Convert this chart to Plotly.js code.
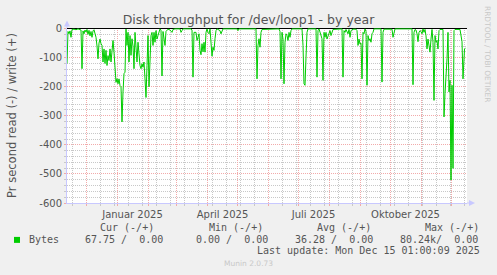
<!DOCTYPE html>
<html>
<head>
<meta charset="utf-8">
<script src="https://cdn.plot.ly/plotly-3.0.1.min.js"></script>
<style>
html,body{margin:0;padding:0;background:#f0f0f0;}
#chart{width:497px;height:275px;}
</style>
</head>
<body>
<div id="chart"></div>
<script>
// ---- data (negative = read, Bytes per second) ----
const dates = [
 '2024-11-11T12:00','2024-11-12T12:00','2024-11-13T12:00','2024-11-14T12:00','2024-11-15T12:00','2024-11-16T12:00',
 '2024-11-18T12:00','2024-11-20T12:00','2024-11-22T12:00','2024-11-25T12:00','2024-11-26T12:00','2024-11-27T12:00',
 '2024-11-28T12:00','2024-11-29T12:00','2024-11-30T12:00','2024-12-01T12:00','2024-12-02T12:00','2024-12-03T12:00',
 '2024-12-04T12:00','2024-12-05T12:00','2024-12-06T12:00','2024-12-07T12:00','2024-12-08T12:00','2024-12-09T12:00',
 '2024-12-10T12:00','2024-12-11T12:00','2024-12-12T12:00','2024-12-13T12:00','2024-12-14T12:00','2024-12-15T12:00',
 '2024-12-16T12:00','2024-12-17T12:00','2024-12-18T12:00','2024-12-19T12:00','2024-12-20T12:00','2024-12-21T12:00',
 '2024-12-22T12:00','2024-12-23T12:00','2024-12-24T12:00','2024-12-25T12:00','2024-12-26T12:00','2024-12-27T12:00',
 '2024-12-28T12:00','2024-12-29T12:00','2024-12-30T12:00','2024-12-31T12:00','2025-01-01T12:00','2025-01-02T12:00',
 '2025-01-03T12:00','2025-01-04T12:00','2025-01-05T12:00','2025-01-06T12:00','2025-01-07T12:00','2025-01-08T12:00',
 '2025-01-09T12:00','2025-01-10T12:00','2025-01-11T12:00','2025-01-12T12:00','2025-01-13T12:00','2025-01-14T12:00',
 '2025-01-15T12:00','2025-01-16T12:00','2025-01-17T12:00','2025-01-18T12:00','2025-01-19T12:00','2025-01-20T12:00',
 '2025-01-21T12:00','2025-01-22T12:00','2025-01-23T12:00','2025-01-24T12:00','2025-01-25T12:00','2025-01-26T12:00',
 '2025-01-27T12:00','2025-01-28T12:00','2025-01-29T12:00','2025-01-30T12:00','2025-01-31T12:00','2025-02-01T12:00',
 '2025-02-02T12:00','2025-02-03T12:00','2025-02-04T12:00','2025-02-05T12:00','2025-02-06T12:00','2025-02-07T12:00',
 '2025-02-08T12:00','2025-02-09T12:00','2025-02-10T12:00','2025-02-12T12:00','2025-02-13T12:00','2025-02-14T12:00',
 '2025-02-15T12:00','2025-02-16T12:00','2025-02-17T12:00','2025-02-18T12:00','2025-02-20T12:00','2025-02-22T12:00',
 '2025-02-24T12:00','2025-02-25T12:00','2025-02-27T12:00','2025-03-04T12:00','2025-03-05T12:00','2025-03-06T12:00',
 '2025-03-07T12:00','2025-03-15T12:00','2025-03-16T12:00','2025-03-17T12:00','2025-03-18T12:00','2025-03-20T12:00',
 '2025-03-21T12:00','2025-03-22T12:00','2025-03-23T12:00','2025-03-24T12:00','2025-03-25T12:00','2025-03-26T12:00',
 '2025-03-27T12:00','2025-03-28T12:00','2025-03-29T12:00','2025-03-30T12:00','2025-03-31T12:00','2025-04-01T12:00',
 '2025-04-02T12:00','2025-04-03T12:00','2025-04-04T12:00','2025-04-05T12:00','2025-04-06T12:00','2025-04-07T12:00',
 '2025-04-08T12:00','2025-04-09T12:00','2025-04-10T12:00','2025-04-13T12:00','2025-04-14T12:00','2025-04-15T12:00',
 '2025-04-16T12:00','2025-04-30T12:00','2025-05-01T12:00','2025-05-02T12:00','2025-05-19T12:00','2025-05-20T12:00',
 '2025-05-21T12:00','2025-05-22T12:00','2025-05-23T12:00','2025-05-24T12:00','2025-05-25T12:00','2025-06-11T12:00',
 '2025-06-12T12:00','2025-06-13T12:00','2025-06-14T12:00','2025-06-15T12:00','2025-06-16T12:00','2025-06-17T12:00',
 '2025-06-18T12:00','2025-06-19T12:00','2025-06-20T12:00','2025-06-21T12:00','2025-06-22T12:00','2025-06-23T12:00',
 '2025-06-24T12:00','2025-07-04T12:00','2025-07-05T12:00','2025-07-06T12:00','2025-07-07T12:00','2025-07-08T12:00',
 '2025-07-09T12:00','2025-07-10T12:00','2025-07-18T12:00','2025-07-19T12:00','2025-07-20T12:00','2025-07-21T12:00',
 '2025-07-24T12:00','2025-07-25T12:00','2025-07-26T12:00','2025-07-27T12:00','2025-07-28T12:00','2025-07-29T12:00',
 '2025-07-30T12:00','2025-07-31T12:00','2025-08-01T12:00','2025-08-02T12:00','2025-08-03T12:00','2025-08-04T12:00',
 '2025-08-13T12:00','2025-08-14T12:00','2025-08-15T12:00','2025-08-16T12:00','2025-08-17T12:00','2025-08-19T12:00',
 '2025-08-20T12:00','2025-08-21T12:00','2025-08-22T12:00','2025-08-24T12:00','2025-08-27T12:00','2025-08-28T12:00',
 '2025-08-29T12:00','2025-08-30T12:00','2025-08-31T12:00','2025-09-01T12:00','2025-09-02T12:00','2025-09-03T12:00',
 '2025-09-04T12:00','2025-09-05T12:00','2025-09-06T12:00','2025-09-07T12:00','2025-09-08T12:00','2025-09-09T12:00',
 '2025-09-10T12:00','2025-09-11T12:00','2025-09-12T12:00','2025-09-13T12:00','2025-09-14T12:00','2025-09-21T12:00',
 '2025-09-22T12:00','2025-09-23T12:00','2025-09-24T12:00','2025-10-02T12:00','2025-10-03T12:00','2025-10-04T12:00',
 '2025-10-05T12:00','2025-10-22T12:00','2025-10-23T12:00','2025-10-24T12:00','2025-10-25T12:00','2025-10-26T12:00',
 '2025-10-27T12:00','2025-10-28T12:00','2025-10-29T12:00','2025-10-30T12:00','2025-10-31T12:00','2025-11-01T12:00',
 '2025-11-02T12:00','2025-11-03T12:00','2025-11-04T12:00','2025-11-05T12:00','2025-11-06T12:00','2025-11-07T12:00',
 '2025-11-08T12:00','2025-11-09T12:00','2025-11-10T12:00','2025-11-11T12:00','2025-11-12T12:00','2025-11-13T12:00',
 '2025-11-14T12:00','2025-11-15T12:00','2025-11-16T12:00','2025-11-17T12:00','2025-11-18T12:00','2025-11-19T12:00',
 '2025-11-22T12:00','2025-11-23T12:00','2025-11-24T12:00','2025-11-25T12:00','2025-11-26T12:00','2025-11-27T12:00',
 '2025-11-28T12:00','2025-11-29T12:00','2025-11-30T12:00','2025-12-01T12:00','2025-12-02T12:00','2025-12-03T12:00',
 '2025-12-04T12:00','2025-12-09T12:00','2025-12-10T12:00','2025-12-11T12:00','2025-12-12T12:00','2025-12-13T12:00',
 '2025-12-14T00:00','2025-12-15T00:00'
];
const readValues = [
 -120,-10,-18,-8,-30,-3,
 -2,-4,-1,-5,-138,-8,
 -18,-5,-12,-3,-20,-6,
 -25,-10,-30,-8,-4,-20,
 -30,-60,-104,-50,-36,-52,
 -58,-115,-70,-120,-75,-127,
 -93,-110,-70,-115,-58,-41,
 -81,-150,-185,-172,-190,-173,
 -196,-200,-321,-218,-155,-150,
 -2,-58,-13,-115,-24,-92,
 -35,-60,-138,-13,-58,-115,
 -47,-104,-127,-138,-121,-133,
 -115,-173,-237,-127,-24,-200,
 -104,-24,-13,-58,-13,-47,
 -7,-36,-24,-1,-5,-163,
 -10,-36,-58,-10,-2,-5,
 -13,-3,-1,-1,-13,-7,
 -1,-1,-5,-167,-13,-13,
 -41,-30,-18,-75,-90,-52,
 -80,-47,-81,-13,-1,-13,
 -18,-1,-50,-95,-64,-75,
 -35,-7,-1,-7,-18,-5,
 -1,-1,-7,-1,-1,-173,
 -58,-35,-64,-13,-3,-1,
 -10,-173,-13,-36,-190,-47,
 -18,-24,-41,-13,-30,-7,
 -1,-1,-58,-190,-195,-98,
 -13,-1,-1,-167,-7,-1,
 -35,-178,-13,-30,-13,-36,
 -24,-18,-7,-24,-13,-3,
 -1,-167,-7,-13,-3,-18,
 -3,-30,-7,-2,-2,-7,
 -58,-36,-53,-50,-173,-13,
 -18,-1,-10,-195,-24,-41,
 -35,-47,-18,-13,-1,-1,
 -184,-13,-2,-2,-30,-7,
 -1,-1,-193,-13,-3,-5,
 -18,-45,-13,-7,-10,-18,
 -1,-13,-3,-25,-70,-36,
 -58,-81,-36,-3,-47,-247,
 -24,-47,-41,-70,-7,-3,
 -3,-304,-224,-173,-104,-13,
 -218,-178,-521,-195,-481,-7,
 -3,-3,-20,-45,-173,-70,
 -70,-67.75
];

// axis ticks / labels
const xRange = ['2024-11-11T12:00', '2025-12-16T12:00'];
const monthStarts = ['2024-12-01','2025-01-01','2025-02-01','2025-03-01','2025-04-01','2025-05-01',
  '2025-06-01','2025-07-01','2025-08-01','2025-09-01','2025-10-01','2025-11-01','2025-12-01'];
const monthLabels = ['','Januar 2025','','','April 2025','','','Juli 2025','','','Oktober 2025','',''];
const yTickVals = [0,-100,-200,-300,-400,-500,-600];
const yTickText = ['0','-100','-200','-300','-400','-500','-600'];

// legend table
const seriesName = 'Bytes';
const statHeaders = ['Cur (-/+)','Min (-/+)','Avg (-/+)','Max (-/+)'];
const statValues = ['67.75 /  0.00','0.00 /  0.00','36.28 /  0.00','80.24k/  0.00'];
const titleText = 'Disk throughput for /dev/loop1 - by year';
const yTitle = 'Pr second read (-) / write (+)';
const lastUpdate = 'Last update: Mon Dec 15 01:00:09 2025';
const watermark = 'RRDTOOL / TOBI OETIKER';
const munin = 'Munin 2.0.73';

// ---- layout geometry (pixels) ----
const W = 497, H = 275;
const L = 67, R = 467, T = 27.5, B = 203;
const px = x => (x - L) / (R - L);
const py = y => (B - y) / (B - T);

const MONO = 'DejaVu Sans Mono, monospace';
const SANS = 'DejaVu Sans, sans-serif';
const TXT = '#555555';
const MAJ = 'rgb(242,170,170)';
const MIN = 'rgb(200,200,200)';
const AXC = 'rgb(200,200,255)';

const trace = {
  x: dates, y: readValues, type: 'scatter', mode: 'lines',
  line: {color: '#00cc00', width: 1}, hoverinfo: 'skip', showlegend: false
};

const headerX = [98, 207, 315, 423];
const valueX = [83, 194, 293, 398];
const annotations = [];
statHeaders.forEach((t, i) => annotations.push({
  xref: 'paper', yref: 'paper', x: px(headerX[i]), y: py(227.7), xanchor: 'left', yanchor: 'middle',
  text: t, showarrow: false, font: {family: MONO, size: 10, color: TXT}
}));
statValues.forEach((t, i) => annotations.push({
  xref: 'paper', yref: 'paper', x: px(valueX[i]), y: py(239.3), xanchor: 'left', yanchor: 'middle',
  text: t, showarrow: false, font: {family: MONO, size: 10, color: TXT}
}));
annotations.push({xref: 'paper', yref: 'paper', x: px(27), y: py(239.3), xanchor: 'left', yanchor: 'middle',
  text: seriesName, showarrow: false, font: {family: MONO, size: 10, color: TXT}});
annotations.push({xref: 'paper', yref: 'paper', x: px(482), y: py(251), xanchor: 'right', yanchor: 'middle',
  text: lastUpdate, showarrow: false, font: {family: MONO, size: 10, color: TXT}});
annotations.push({xref: 'paper', yref: 'paper', x: px(248.5), y: py(264), xanchor: 'center', yanchor: 'middle',
  text: munin, showarrow: false, font: {family: SANS, size: 7.5, color: '#c8c8c8'}});
annotations.push({xref: 'paper', yref: 'paper', x: px(487), y: py(53.5), xanchor: 'center', yanchor: 'middle',
  text: watermark, textangle: 90, showarrow: false, font: {family: SANS, size: 7.5, color: '#c8c8c8'}});

const shapes = [
  {type: 'rect', xref: 'paper', yref: 'paper', x0: px(14), x1: px(20), y0: py(243), y1: py(237),
   fillcolor: '#00cc00', line: {width: 0}},
  // axis extensions with arrow heads
  {type: 'line', xref: 'paper', yref: 'paper', x0: 0, x1: 0, y0: 1, y1: py(22), line: {color: AXC, width: 1}},
  {type: 'path', xref: 'paper', yref: 'paper',
   path: `M ${px(64)} ${py(26)} L ${px(70)} ${py(26)} L ${px(67)} ${py(20)} Z`, fillcolor: AXC, line: {width: 0}},
  {type: 'line', xref: 'paper', yref: 'paper', x0: 1, x1: px(471), y0: 0, y1: 0, line: {color: AXC, width: 1}},
  {type: 'path', xref: 'paper', yref: 'paper',
   path: `M ${px(469)} ${py(200)} L ${px(469)} ${py(206)} L ${px(475)} ${py(203)} Z`, fillcolor: AXC, line: {width: 0}}
];

const layout = {
  width: W, height: H,
  margin: {l: L, r: W - R, t: T, b: H - B, pad: 0},
  paper_bgcolor: '#f0f0f0', plot_bgcolor: '#ffffff',
  showlegend: false, hovermode: false,
  title: {text: titleText, font: {family: SANS, size: 12.5, color: TXT},
          xref: 'container', x: 0.5, xanchor: 'center', yref: 'container', y: 1 - 19.5 / H, yanchor: 'middle'},
  xaxis: {
    type: 'date', range: xRange, fixedrange: true,
    tickmode: 'array', tickvals: monthStarts, ticktext: monthLabels, ticklabelshift: 15,
    tickfont: {family: SANS, size: 10, color: TXT},
    ticks: 'outside', ticklen: 2, tickcolor: MAJ,
    showgrid: true, gridcolor: MAJ, griddash: '1px,1px', gridwidth: 1,
    minor: {dtick: 14 * 86400000, tick0: '2024-12-15', showgrid: true, gridcolor: MIN, griddash: '1px,1px',
            ticks: 'outside', ticklen: 2, tickcolor: MIN},
    showline: true, linecolor: AXC, linewidth: 1, zeroline: false
  },
  yaxis: {
    range: [-600, 2], fixedrange: true,
    tickmode: 'array', tickvals: yTickVals, ticktext: yTickText,
    tickfont: {family: SANS, size: 10, color: TXT},
    ticks: 'outside', ticklen: 2, tickcolor: MAJ,
    showgrid: true, gridcolor: MAJ, griddash: '1px,1px', gridwidth: 1,
    minor: {dtick: 20, showgrid: true, gridcolor: MIN, griddash: '1px,1px', ticks: 'outside', ticklen: 2, tickcolor: MIN},
    zeroline: true, zerolinecolor: '#000000', zerolinewidth: 1,
    showline: true, linecolor: AXC, linewidth: 1,
    title: {text: yTitle, font: {family: SANS, size: 11.5, color: TXT}, standoff: 20}
  },
  annotations: annotations,
  shapes: shapes
};

Plotly.newPlot('chart', [trace], layout, {staticPlot: true, displayModeBar: false});
</script>
</body>
</html>
